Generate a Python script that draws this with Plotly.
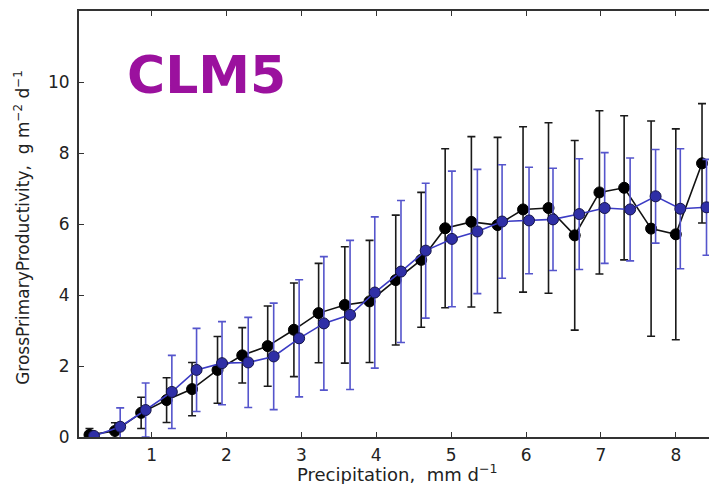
import plotly.graph_objects as go

# CLM5 (black) series
clm_x = [0.17, 0.51, 0.86, 1.20, 1.54, 1.88, 2.21, 2.55, 2.90, 3.23, 3.58, 3.91, 4.26,
         4.60, 4.92, 5.27, 5.62, 5.96, 6.30, 6.65, 6.98, 7.31, 7.67, 8.00, 8.35]
clm_y = [0.06, 0.17, 0.68, 1.04, 1.35, 1.89, 2.30, 2.56, 3.02, 3.49, 3.72, 3.82, 4.42,
         4.99, 5.88, 6.06, 5.97, 6.41, 6.45, 5.68, 6.89, 7.02, 5.87, 5.71, 7.71]
clm_err = [0.18, 0.23, 0.44, 0.63, 0.75, 0.94, 0.78, 1.13, 1.32, 1.40, 1.64, 1.72, 1.83,
           1.90, 2.24, 2.40, 2.47, 2.33, 2.40, 2.67, 2.30, 2.03, 3.03, 2.97, 1.68]

# Observations (blue) series
obs_x = [0.23, 0.58, 0.92, 1.27, 1.60, 1.94, 2.29, 2.63, 2.97, 3.30, 3.65, 3.98, 4.33,
         4.66, 5.01, 5.35, 5.68, 6.04, 6.36, 6.71, 7.05, 7.39, 7.73, 8.06, 8.41]
obs_y = [0.03, 0.29, 0.76, 1.27, 1.89, 2.08, 2.10, 2.27, 2.78, 3.20, 3.44, 4.07, 4.66,
         5.25, 5.58, 5.79, 6.07, 6.10, 6.13, 6.28, 6.45, 6.41, 6.78, 6.43, 6.47]
obs_err = [0.05, 0.53, 0.76, 1.03, 1.17, 1.17, 1.27, 1.50, 1.65, 1.88, 2.10, 2.13, 2.00,
           1.90, 1.91, 1.75, 1.60, 1.50, 1.44, 1.56, 1.56, 1.45, 1.32, 1.69, 1.35]

x_ticks = [1, 2, 3, 4, 5, 6, 7, 8]
y_ticks = [0, 2, 4, 6, 8, 10]

x_title = "Precipitation,  mm d<sup>−1</sup>"
y_title = "GrossPrimaryProductivity,  g m<sup>−2</sup> d<sup>−1</sup>"
panel_label = "<b>CLM5</b>"

fig = go.Figure()
fig.add_trace(go.Scatter(
    x=clm_x, y=clm_y, mode="lines+markers", name="CLM5",
    line=dict(color="#111111", width=1.6),
    marker=dict(color="#000000", size=11, line=dict(color="#000000", width=1)),
    error_y=dict(type="data", array=clm_err, visible=True, color="#1a1a1a",
                 thickness=1.6, width=4),
))
fig.add_trace(go.Scatter(
    x=obs_x, y=obs_y, mode="lines+markers", name="Obs",
    line=dict(color="#3b3bc4", width=1.6),
    marker=dict(color="#2f2fa6", size=11, line=dict(color="#15154a", width=1)),
    error_y=dict(type="data", array=obs_err, visible=True, color="#5555cc",
                 thickness=1.6, width=4),
))

font_family = "DejaVu Sans"
# the page body has an 8px margin, so the figure is sized to fill the window from there
fig.update_layout(
    width=709, height=476,
    margin=dict(l=71, r=2, t=1, b=47),
    paper_bgcolor="white", plot_bgcolor="white",
    showlegend=False,
    font=dict(family=font_family, color="#222222"),
    xaxis=dict(
        range=[0.03, 8.51], tickvals=x_ticks, ticks="inside", ticklen=5,
        tickcolor="#333333", tickwidth=1, showgrid=False, zeroline=False,
        showline=True, linecolor="#333333", linewidth=2, mirror="ticks",
        tickfont=dict(size=17, family=font_family, color="#222222"),
        ticklabelstandoff=2,
    ),
    yaxis=dict(
        range=[0, 12], tickvals=y_ticks, ticks="inside", ticklen=5,
        tickcolor="#333333", tickwidth=1, showgrid=False, zeroline=False,
        showline=True, linecolor="#333333", linewidth=2, mirror="ticks",
        tickfont=dict(size=17, family=font_family, color="#222222"),
        ticklabelstandoff=4,
    ),
    annotations=[
        dict(text=x_title, xref="paper", yref="paper", x=0.5, y=-0.085,
             xanchor="center", yanchor="middle", showarrow=False,
             font=dict(size=18, family=font_family, color="#222222")),
        dict(text=y_title, xref="paper", yref="paper", x=-0.09, y=0.493,
             xanchor="center", yanchor="middle", showarrow=False, textangle=-90,
             font=dict(size=17, family=font_family, color="#222222")),
        dict(text=panel_label, xref="paper", yref="paper", x=0.072, y=0.85,
             xanchor="left", yanchor="middle", showarrow=False,
             font=dict(size=52, family="DejaVu Sans", color="#9b119e")),
    ],
)

fig.write_html("out.html")
